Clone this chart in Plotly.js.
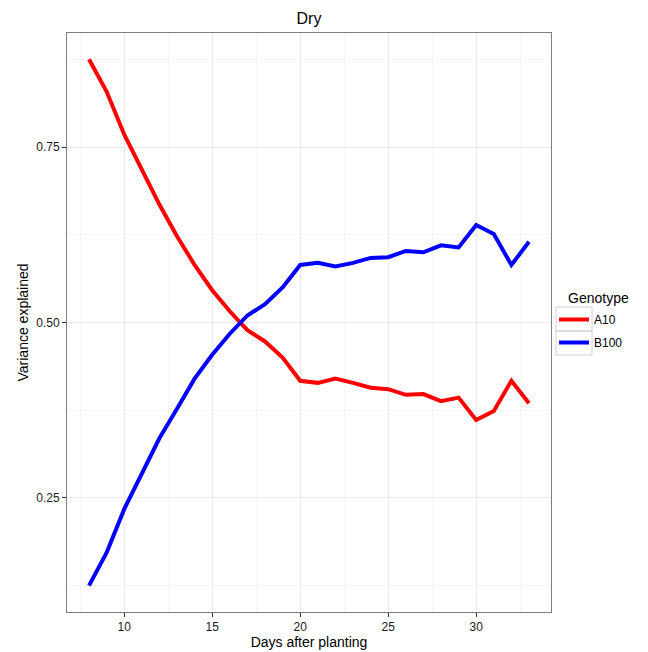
<!DOCTYPE html>
<html>
<head>
<meta charset="utf-8">
<script src="https://cdn.plot.ly/plotly-3.0.1.min.js"></script>
<style>html,body{margin:0;padding:0;background:#fff;}#chart{width:648px;height:652px;}</style>
</head>
<body>
<div id="chart"></div>
<script>
const days = [8,9,10,11,12,13,14,15,16,17,18,19,20,21,22,23,24,25,26,27,28,29,30,31,32,33];
const a10 = [0.875,0.829,0.768,0.718,0.668,0.623,0.582,0.546,0.516,0.489,0.473,0.450,0.417,0.414,0.420,0.414,0.407,0.405,0.397,0.398,0.388,0.393,0.361,0.374,0.417,0.385];
const b100 = [0.125,0.172,0.234,0.285,0.335,0.377,0.420,0.454,0.484,0.510,0.526,0.550,0.582,0.585,0.580,0.585,0.592,0.593,0.602,0.600,0.610,0.607,0.639,0.626,0.582,0.615];
const seriesNames = ["A10","B100"];
const seriesColors = ["#FF0000","#0000FF"];
const legendTitle = "Genotype";

const font = "Liberation Sans, Arial, Helvetica, sans-serif";
const traces = [a10, b100].map((vals, i) => ({
  x: days, y: vals, type: "scatter", mode: "lines", name: seriesNames[i],
  legendgroup: "g" + i,
  line: {color: seriesColors[i], width: 4}
}));

// plot area in pixels: left 67, right 551, top 33, bottom 612
const W = 484, H = 579;
const px = x => (x - 67) / W;
const py = y => (612 - y) / H;

const keyBoxes = [[307, 331], [331, 355]].map(([t, b]) => ({
  type: "rect", xref: "paper", yref: "paper",
  x0: px(556), x1: px(592), y0: py(b), y1: py(t),
  line: {color: "#d0d0d0", width: 1}, fillcolor: "rgba(0,0,0,0)", layer: "above"
}));

const layout = {
  width: 648, height: 652,
  margin: {l: 67, r: 97, t: 33, b: 40},
  paper_bgcolor: "#fff", plot_bgcolor: "#fff",
  font: {family: font, color: "#000", size: 12},
  title: {text: "Dry", x: 0.5, xref: "paper", y: 1 - 18/652, yref: "container", yanchor: "middle", font: {size: 16, family: font, color: "#000"}},
  xaxis: {
    range: [6.75, 34.25], tickmode: "linear", tick0: 0, dtick: 5,
    showgrid: true, gridcolor: "#ebebeb", gridwidth: 1,
    minor: {tick0: 2.5, dtick: 5, showgrid: true, gridcolor: "#f5f5f5", gridwidth: 1, ticks: ""},
    zeroline: false, showline: true, mirror: true, linecolor: "#7f7f7f", linewidth: 1,
    ticks: "outside", ticklen: 4, tickcolor: "#333", tickwidth: 1,
    tickfont: {size: 12, color: "#1a1a1a", family: font},
    title: {text: "Days after planting", font: {size: 14, family: font, color: "#000"}, standoff: 3}
  },
  yaxis: {
    range: [0.0875, 0.9125], tickmode: "linear", tick0: 0, dtick: 0.25, tickformat: ".2f",
    showgrid: true, gridcolor: "#ebebeb", gridwidth: 1,
    minor: {tick0: 0.125, dtick: 0.25, showgrid: true, gridcolor: "#f5f5f5", gridwidth: 1, ticks: ""},
    zeroline: false, showline: true, mirror: true, linecolor: "#7f7f7f", linewidth: 1,
    ticks: "outside", ticklen: 4, tickcolor: "#333", tickwidth: 1,
    tickfont: {size: 12, color: "#1a1a1a", family: font},
    title: {text: "Variance explained", font: {size: 14, family: font, color: "#000"}, standoff: 4}
  },
  showlegend: true,
  legend: {
    x: px(554), xanchor: "left", y: py(331), yanchor: "middle",
    font: {size: 12, family: font, color: "#000"},
    bgcolor: "rgba(0,0,0,0)", borderwidth: 0, tracegroupgap: 4, itemwidth: 30,
    traceorder: "grouped"
  },
  annotations: [{
    text: legendTitle, xref: "paper", yref: "paper", x: px(566), y: py(298),
    xanchor: "left", yanchor: "middle", showarrow: false,
    font: {size: 14, family: font, color: "#000"}
  }],
  shapes: keyBoxes
};

Plotly.newPlot("chart", traces, layout, {displayModeBar: false, staticPlot: true});
</script>
</body>
</html>
